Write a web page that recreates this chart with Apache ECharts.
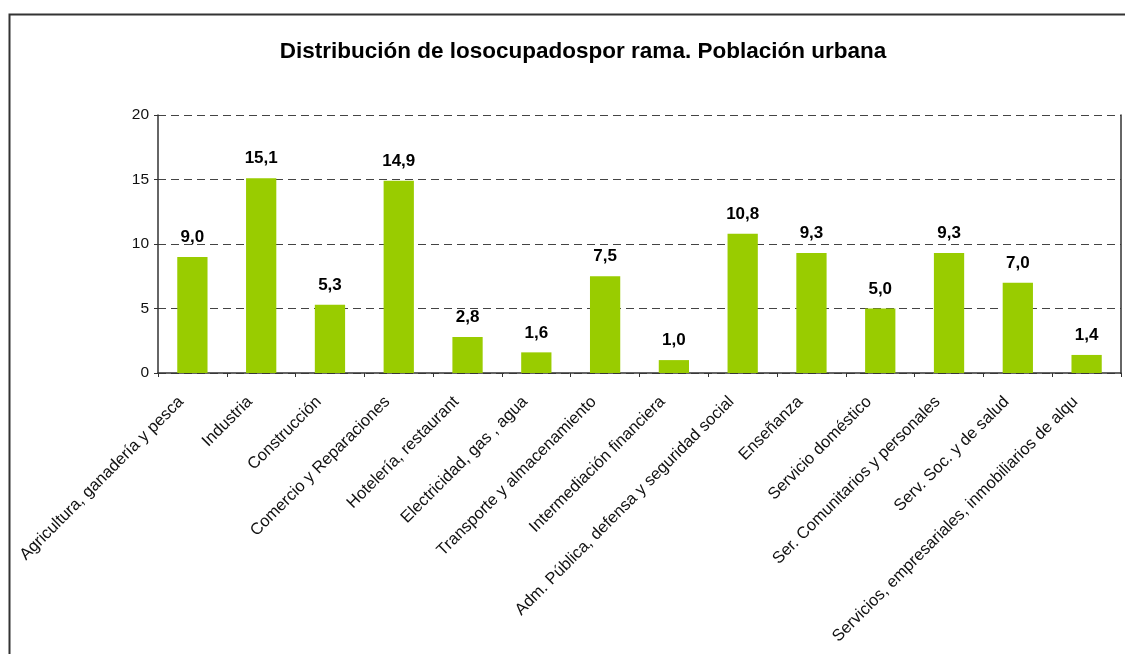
<!DOCTYPE html>
<html>
<head>
<meta charset="utf-8">
<script src="https://cdn.jsdelivr.net/npm/echarts@6/dist/echarts.min.js"></script>
<style>
  html, body { margin: 0; padding: 0; background: #fff; }
  #chart-ramas { width: 1125px; height: 654px; }
</style>
</head>
<body>
<div id="chart-ramas"></div>
<script>
// ============================================================
// Datos
// ============================================================
var TITLE_TEXT = 'Distribución de losocupadospor rama. Población urbana';

var CATEGORIES = [
  'Agricultura, ganadería y pesca',
  'Industria',
  'Construcción',
  'Comercio y Reparaciones',
  'Hotelería, restaurant',
  'Electricidad, gas , agua',
  'Transporte y almacenamiento',
  'Intermediación financiera',
  'Adm. Pública, defensa y seguridad social',
  'Enseñanza',
  'Servicio doméstico',
  'Ser. Comunitarios y personales',
  'Serv. Soc. y de salud',
  'Servicios, empresariales, inmobiliarios de alqu'
];

var VALUES = [9.0, 15.1, 5.3, 14.9, 2.8, 1.6, 7.5, 1.0, 10.8, 9.3, 5.0, 9.3, 7.0, 1.4];

var Y_MIN = 0;
var Y_MAX = 20;
var Y_STEP = 5;

var BAR_COLOR = '#99CC00';
var FONT = '"Liberation Sans", Arial, sans-serif';

// ============================================================
// Render
// ============================================================
var chart = echarts.init(document.getElementById('chart-ramas'));

function formatDecimal(v) {
  return v.toFixed(1).replace('.', ',');
}

chart.setOption({
  animation: false,
  textStyle: { fontFamily: FONT },
  title: {
    text: TITLE_TEXT,
    left: 578,
    top: 35,
    textAlign: 'center',
    textStyle: { fontSize: 22.5, fontWeight: 'bold', color: '#000', fontFamily: FONT }
  },
  graphic: [{
    type: 'rect',
    left: 7,
    top: 12,
    shape: { width: 1140, height: 700 },
    style: { fill: 'none', stroke: '#333', lineWidth: 2 },
    silent: true
  }],
  grid: { left: 158, top: 115, right: 4, bottom: 281, containLabel: false },
  xAxis: {
    type: 'category',
    data: CATEGORIES,
    axisLine: { lineStyle: { color: '#333', width: 1.5 } },
    axisTick: { show: true, length: 4, lineStyle: { color: '#333' } },
    axisLabel: {
      interval: 0,
      rotate: 45,
      margin: 15,
      padding: [0, 16, 0, 0],
      fontSize: 16.5,
      color: '#111',
      fontFamily: FONT
    }
  },
  yAxis: [{
    type: 'value',
    min: Y_MIN,
    max: Y_MAX,
    interval: Y_STEP,
    axisLine: { show: true, lineStyle: { color: '#333', width: 1.5 } },
    axisTick: { show: true, length: 4, lineStyle: { color: '#333' } },
    axisLabel: { fontSize: 15.5, color: '#111', margin: 9, fontFamily: FONT },
    splitLine: {
      show: true,
      lineStyle: { color: '#444', type: [8, 5], width: 1 }
    }
  }, {
    type: 'value',
    position: 'right',
    min: Y_MIN,
    max: Y_MAX,
    interval: Y_STEP,
    axisLine: { show: true, lineStyle: { color: '#333', width: 1.5 } },
    axisTick: { show: false },
    axisLabel: { show: false },
    splitLine: { show: false }
  }],
  series: [{
    type: 'bar',
    data: VALUES,
    barWidth: '44%',
    itemStyle: { color: BAR_COLOR },
    label: {
      show: true,
      position: 'top',
      distance: 11,
      fontSize: 17,
      fontWeight: 'bold',
      color: '#000',
      fontFamily: FONT,
      formatter: function(p) { return formatDecimal(p.value); }
    }
  }]
});
</script>
</body>
</html>
